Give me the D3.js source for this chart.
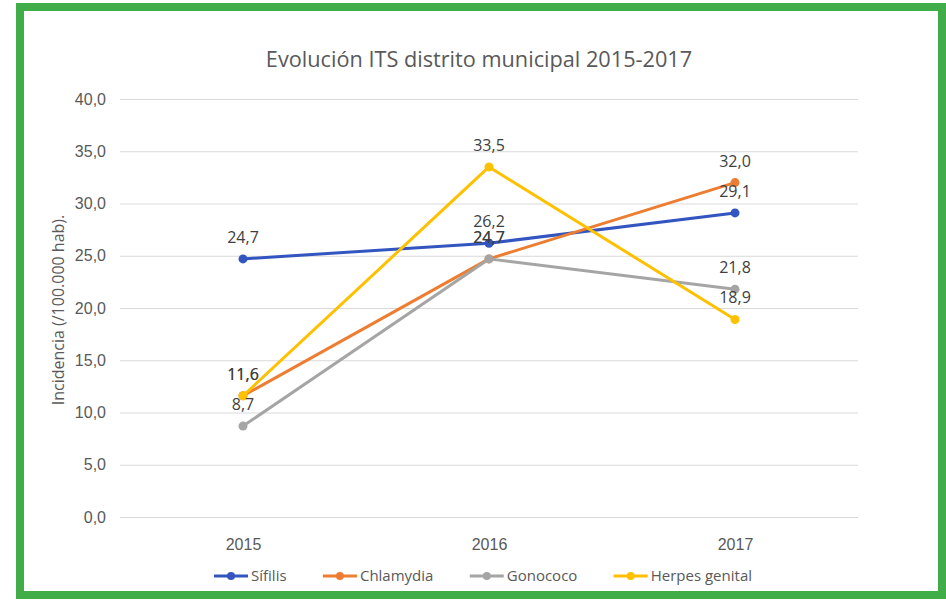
<!DOCTYPE html>
<html>
<head>
<meta charset="utf-8">
<script src="https://cdn.jsdelivr.net/npm/d3@7"></script>
<style>
  body { margin: 0; background: #fff; }
  svg { display: block; font-family: "Open Sans", sans-serif; }
</style>
</head>
<body>
<div id="viz-container"></div>
<script>
// data
let years = ["2015", "2016", "2017"];
let seriesNames = ["Sífilis", "Chlamydia", "Gonococo", "Herpes genital"];
let sifilis = [24.7, 26.2, 29.1];
let chlamydia = [11.6, 24.7, 32.0];
let gonococo = [8.7, 24.7, 21.8];
let herpes = [11.6, 33.5, 18.9];
let yTicks = [0, 5, 10, 15, 20, 25, 30, 35, 40];
let colors = ["#3355c0", "#ed7d31", "#a5a5a5", "#ffc000"];

let allSeries = [sifilis, chlamydia, gonococo, herpes];

let W = 946, H = 601;
let viz = d3.select("#viz-container")
  .append("svg")
    .attr("id", "viz")
    .attr("width", W)
    .attr("height", H)
  ;

// green frame
viz.append("rect")
  .attr("x", 20).attr("y", 7)
  .attr("width", 922).attr("height", 588)
  .attr("fill", "none")
  .attr("stroke", "#41ad49")
  .attr("stroke-width", 8);

let x = d3.scalePoint().domain(years).range([120, 858]).padding(0.5);
let y = d3.scaleLinear().domain([0, 40]).range([517, 99]);

function fmt(v){
  return d3.format(".1f")(v).replace(".", ",");
}

// grid + y axis
let yAxis = d3.axisLeft(y)
  .tickValues(yTicks)
  .tickSize(-738)
  .tickPadding(14)
  .tickFormat(fmt);

let gy = viz.append("g")
  .attr("transform", "translate(120,0)")
  .call(yAxis);
gy.select(".domain").remove();
gy.selectAll(".tick line").attr("stroke", "#d9d9d9").attr("stroke-width", 1);
gy.selectAll(".tick text")
  .attr("fill", "#595959")
  .style("font-size", "16px");

// x axis labels
let xAxis = d3.axisBottom(x).tickSize(0).tickPadding(22);
let gx = viz.append("g")
  .attr("transform", "translate(0,517)")
  .call(xAxis);
gx.select(".domain").remove();
gx.selectAll(".tick text")
  .attr("fill", "#595959")
  .style("font-size", "16px");

// title
viz.append("text")
  .attr("x", 479).attr("y", 67)
  .attr("text-anchor", "middle")
  .attr("fill", "#595959")
  .style("font-size", "21.7px")
  .text("Evolución ITS distrito municipal 2015-2017");

// y axis title
viz.append("text")
  .attr("transform", "translate(64,310) rotate(-90)")
  .attr("text-anchor", "middle")
  .attr("fill", "#595959")
  .style("font-size", "16px")
  .text("Incidencia (/100.000 hab).");

let line = d3.line()
  .x(function(d, i){ return x(years[i]); })
  .y(function(d){ return y(d); });

allSeries.forEach(function(vals, s){
  let g = viz.append("g");
  g.append("path")
    .datum(vals)
    .attr("d", line)
    .attr("fill", "none")
    .attr("stroke", colors[s])
    .attr("stroke-width", 3)
    .attr("stroke-linejoin", "round");
  g.selectAll("circle").data(vals).enter()
    .append("circle")
      .attr("cx", function(d, i){ return x(years[i]); })
      .attr("cy", function(d){ return y(d); })
      .attr("r", 4.5)
      .attr("fill", colors[s]);
});

// data labels
allSeries.forEach(function(vals, s){
  viz.selectAll(".lbl" + s).data(vals).enter()
    .append("text")
      .attr("class", "lbl" + s)
      .attr("x", function(d, i){ return x(years[i]); })
      .attr("y", function(d){ return y(d) - 16; })
      .attr("text-anchor", "middle")
      .attr("fill", "#404040")
      .style("font-size", "16px")
      .text(fmt);
});

// legend, spread over 214..752 like the original
let legStart = 214, legEnd = 752;
let legend = viz.append("g").attr("transform", "translate(0,576)");
let items = [];
seriesNames.forEach(function(name, s){
  let g = legend.append("g");
  g.append("line")
    .attr("x1", 0).attr("x2", 34)
    .attr("stroke", colors[s]).attr("stroke-width", 3);
  g.append("circle").attr("cx", 17).attr("r", 4).attr("fill", colors[s]);
  let t = g.append("text")
    .attr("x", 37).attr("y", 5)
    .attr("fill", "#595959")
    .style("font-size", "15px")
    .text(name);
  items.push({g: g, w: 37 + t.node().getComputedTextLength()});
});
let totalW = d3.sum(items, function(d){ return d.w; });
let gap = (legEnd - legStart - totalW) / (items.length - 1);
let cur = legStart;
items.forEach(function(it){
  it.g.attr("transform", "translate(" + cur + ",0)");
  cur += it.w + gap;
});
</script>
</body>
</html>
